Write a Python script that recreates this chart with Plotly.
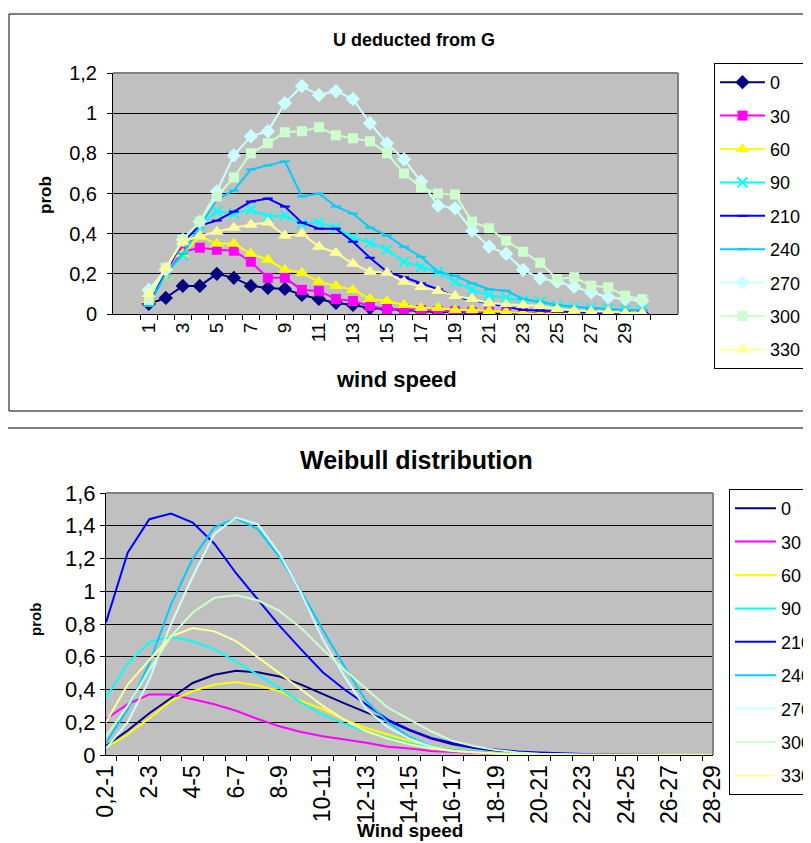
import plotly.graph_objects as go

# the page body has an 8px margin, so the figure is placed at (8, 8)
OFF = 8
W, H = 811 - OFF, 843 - OFF

# --- top chart: "U deducted from G" ---
speeds = [str(i) for i in range(1, 31)]
speed_labels = [s if i % 2 == 0 else "" for i, s in enumerate(speeds)]

u_0 = [0.05, 0.08, 0.14, 0.14, 0.20, 0.18, 0.14, 0.13, 0.125, 0.095, 0.075, 0.055, 0.045, 0.03, 0.025,
       0.02, 0.015, 0.01, 0.01, 0.005, 0.005, 0.005, 0, 0, 0, 0, 0, 0, 0, 0]
u_30 = [0.06, 0.2, 0.31, 0.33, 0.32, 0.315, 0.26, 0.18, 0.18, 0.12, 0.115, 0.075, 0.065, 0.04, 0.025,
        0.025, 0.02, 0.015, 0.015, 0.01, 0.01, 0.01, 0.005, 0.005, 0, 0, 0, 0, 0, 0]
u_60 = [0.07, 0.19, 0.3, 0.385, 0.35, 0.35, 0.3, 0.27, 0.22, 0.205, 0.16, 0.14, 0.12, 0.075, 0.065,
        0.045, 0.03, 0.03, 0.02, 0.02, 0.015, 0.01, 0.005, 0, 0, 0, 0, 0, 0, 0]
u_90 = [0.07, 0.2, 0.29, 0.44, 0.51, 0.5, 0.52, 0.485, 0.49, 0.45, 0.455, 0.43, 0.38, 0.355, 0.32,
        0.26, 0.235, 0.21, 0.16, 0.12, 0.095, 0.078, 0.07, 0.061, 0.04, 0.033, 0.03, 0.025, 0.02, 0.02]
u_210 = [0.06, 0.21, 0.36, 0.44, 0.465, 0.51, 0.56, 0.575, 0.535, 0.455, 0.425, 0.425, 0.36, 0.28, 0.21,
         0.183, 0.153, 0.123, 0.086, 0.07, 0.053, 0.036, 0.02, 0.017, 0.012, 0.01, 0.005, 0.005, 0.005, 0.005]
u_240 = [0.04, 0.2, 0.3, 0.435, 0.57, 0.615, 0.72, 0.74, 0.76, 0.585, 0.6, 0.535, 0.5, 0.43, 0.39,
         0.335, 0.285, 0.21, 0.19, 0.153, 0.123, 0.116, 0.075, 0.061, 0.045, 0.036, 0.03, 0.025, 0.02, 0.02]
u_270 = [0.12, 0.22, 0.37, 0.46, 0.61, 0.79, 0.885, 0.91, 1.05, 1.135, 1.09, 1.11, 1.07, 0.95, 0.85,
         0.77, 0.66, 0.54, 0.526, 0.415, 0.335, 0.30, 0.22, 0.178, 0.16, 0.136, 0.108, 0.083, 0.075, 0.065]
u_300 = [0.07, 0.23, 0.37, 0.46, 0.585, 0.68, 0.8, 0.85, 0.905, 0.91, 0.93, 0.89, 0.875, 0.86, 0.8,
         0.7, 0.63, 0.6, 0.595, 0.46, 0.427, 0.365, 0.31, 0.255, 0.174, 0.183, 0.141, 0.133, 0.091, 0.073]
u_330 = [0.1, 0.23, 0.36, 0.39, 0.41, 0.43, 0.445, 0.455, 0.39, 0.4, 0.335, 0.305, 0.25, 0.21, 0.205,
         0.16, 0.135, 0.115, 0.09, 0.075, 0.055, 0.048, 0.045, 0.04, 0.025, 0.017, 0.012, 0.012, 0.005, 0.005]

# --- bottom chart: "Weibull distribution" ---
bins = ["0,2-1"] + [f"{i}-{i + 1}" for i in range(1, 29)]
bin_labels = [b if i % 2 == 0 else "" for i, b in enumerate(bins)]

w_0 = [0.055, 0.15, 0.255, 0.35, 0.44, 0.49, 0.515, 0.505, 0.48, 0.43, 0.37, 0.315, 0.26, 0.21, 0.15,
       0.1, 0.065, 0.042, 0.026, 0.016, 0.01, 0.006, 0.004, 0.002, 0, 0, 0, 0, 0]
w_30 = [0.22, 0.31, 0.37, 0.37, 0.34, 0.31, 0.27, 0.22, 0.175, 0.14, 0.115, 0.095, 0.075, 0.05, 0.04,
        0.025, 0.018, 0.012, 0.007, 0.004, 0.002, 0.001, 0, 0, 0, 0, 0, 0, 0]
w_60 = [0.045, 0.125, 0.225, 0.33, 0.39, 0.43, 0.445, 0.425, 0.39, 0.33, 0.28, 0.215, 0.165, 0.125, 0.085,
        0.055, 0.035, 0.02, 0.012, 0.007, 0.004, 0.002, 0.001, 0, 0, 0, 0, 0, 0]
w_90 = [0.35, 0.56, 0.69, 0.72, 0.695, 0.645, 0.57, 0.49, 0.41, 0.32, 0.245, 0.19, 0.145, 0.105, 0.07,
        0.045, 0.03, 0.018, 0.01, 0.005, 0.003, 0.001, 0, 0, 0, 0, 0, 0, 0]
w_210 = [0.81, 1.235, 1.44, 1.475, 1.42, 1.29, 1.11, 0.95, 0.79, 0.645, 0.505, 0.40, 0.31, 0.216, 0.155,
         0.104, 0.073, 0.047, 0.033, 0.022, 0.016, 0.01, 0.006, 0.002, 0, 0, 0, 0, 0]
w_240 = [0.075, 0.28, 0.56, 0.92, 1.2, 1.39, 1.445, 1.38, 1.21, 1.0, 0.765, 0.54, 0.33, 0.2, 0.11,
         0.053, 0.03, 0.018, 0.01, 0.005, 0.002, 0.001, 0, 0, 0, 0, 0, 0, 0]
w_270 = [0.04, 0.2, 0.46, 0.8, 1.09, 1.35, 1.45, 1.41, 1.23, 0.99, 0.705, 0.48, 0.28, 0.17, 0.1,
         0.05, 0.026, 0.015, 0.008, 0.004, 0.002, 0.001, 0, 0, 0, 0, 0, 0, 0]
w_300 = [0.115, 0.3, 0.52, 0.725, 0.87, 0.96, 0.975, 0.945, 0.88, 0.775, 0.645, 0.52, 0.405, 0.29, 0.216,
         0.145, 0.085, 0.053, 0.03, 0.016, 0.008, 0.004, 0.002, 0.001, 0, 0, 0, 0, 0]
w_330 = [0.2, 0.43, 0.58, 0.725, 0.775, 0.755, 0.695, 0.6, 0.5, 0.4, 0.3, 0.215, 0.145, 0.1, 0.065,
         0.04, 0.025, 0.015, 0.008, 0.004, 0.002, 0.001, 0, 0, 0, 0, 0, 0, 0]

directions = ["0", "30", "60", "90", "210", "240", "270", "300", "330"]
colors = ["#000080", "#FF00FF", "#FFFF00", "#00FFFF", "#0000FF", "#00CCFF", "#CCFFFF", "#CCFFCC", "#FFFF99"]
symbols = ["diamond", "square", "triangle-up", "x-thin", "line-ew", "line-ew", "diamond", "square", "triangle-up"]
sizes = [11, 10, 12, 10, 7, 7, 11, 10, 12]

u_series = [u_0, u_30, u_60, u_90, u_210, u_240, u_270, u_300, u_330]
w_series = [w_0, w_30, w_60, w_90, w_210, w_240, w_270, w_300, w_330]

FONT = "Liberation Sans, Arial, sans-serif"


# screen pixel -> paper fraction
def px_x(x):
    return (x - OFF) / W


def px_y(y):
    return 1 - (y - OFF) / H


fig = go.Figure()

for name, vals, c, s, sz in zip(directions, u_series, colors, symbols, sizes):
    thin = s in ("x-thin", "line-ew")
    fig.add_trace(go.Scatter(
        x=speeds, y=vals, name=name, mode="lines+markers",
        line=dict(color=c, width=2),
        marker=dict(symbol=s, size=sz, color=c,
                    line=dict(color=c, width=2 if thin else 0)),
        xaxis="x", yaxis="y", legend="legend", legendgroup="u" + name,
    ))

for name, vals, c in zip(directions, w_series, colors):
    fig.add_trace(go.Scatter(
        x=bins, y=vals, name=name, mode="lines",
        line=dict(color=c, width=2),
        xaxis="x2", yaxis="y2", legend="legend2", legendgroup="w" + name,
    ))

axis_common = dict(showline=True, linecolor="black", linewidth=1,
                   ticks="outside", ticklen=5, tickcolor="black")

fig.update_layout(
    width=W, height=H,
    margin=dict(l=0, r=0, t=0, b=0, autoexpand=False),
    paper_bgcolor="white", plot_bgcolor="#C0C0C0",
    separators=",.",
    font=dict(family=FONT, color="black"),
    xaxis=dict(domain=[px_x(113), px_x(678)], anchor="y", type="category",
               tickmode="array", tickvals=speeds, ticktext=speed_labels,
               tickangle=-90, tickson="boundaries", showgrid=False,
               tickfont=dict(family=FONT, size=19, color="black"), **axis_common),
    yaxis=dict(domain=[px_y(314), px_y(73)], anchor="x", range=[0, 1.2],
               tickvals=[0, 0.2, 0.4, 0.6, 0.8, 1, 1.2], ticklabelstandoff=6,
               showgrid=True, gridcolor="black", gridwidth=1, zeroline=False,
               tickfont=dict(family=FONT, size=20, color="black"), **axis_common),
    xaxis2=dict(domain=[px_x(106), px_x(713)], anchor="y2", type="category",
                tickmode="array", tickvals=bins, ticktext=bin_labels,
                tickangle=-90, tickson="boundaries", showgrid=False,
                tickfont=dict(family=FONT, size=23, color="black"), **axis_common),
    yaxis2=dict(domain=[px_y(755), px_y(493)], anchor="x2", range=[0, 1.6],
                tickvals=[0, 0.2, 0.4, 0.6, 0.8, 1, 1.2, 1.4, 1.6],
                showgrid=True, gridcolor="black", gridwidth=1, zeroline=False,
                tickfont=dict(family=FONT, size=22, color="black"), **axis_common),
    legend=dict(x=px_x(714), y=px_y(63), xanchor="left", yanchor="top",
                bgcolor="white", bordercolor="black", borderwidth=1, itemwidth=45,
                tracegroupgap=7, font=dict(family=FONT, size=18)),
    legend2=dict(x=px_x(729), y=px_y(489), xanchor="left", yanchor="top",
                 bgcolor="white", bordercolor="black", borderwidth=1, itemwidth=41,
                 tracegroupgap=7, font=dict(family=FONT, size=18)),
    showlegend=True,
)

# chart frames and plot-area borders
fig.add_shape(type="rect", xref="paper", yref="paper",
              x0=px_x(9), x1=px_x(830), y0=px_y(411), y1=px_y(14),
              line=dict(color="black", width=1), layer="below")
fig.add_shape(type="rect", xref="paper", yref="paper",
              x0=px_x(4), x1=px_x(830), y0=px_y(870), y1=px_y(428),
              line=dict(color="black", width=1), layer="below")
for x0, x1, y0, y1 in [(113, 678, 314, 73), (106, 713, 755, 493)]:
    fig.add_shape(type="line", xref="paper", yref="paper",
                  x0=px_x(x0), x1=px_x(x1), y0=px_y(y1), y1=px_y(y1),
                  line=dict(color="#808080", width=2))
    fig.add_shape(type="line", xref="paper", yref="paper",
                  x0=px_x(x1), x1=px_x(x1), y0=px_y(y0), y1=px_y(y1),
                  line=dict(color="#808080", width=2))

labels = [
    ("<b>U deducted from G</b>", 414, 40, 18, 0),
    ("<b>prob</b>", 45, 195, 17, -90),
    ("<b>wind speed</b>", 396, 379, 22, 0),
    ("<b>Weibull distribution</b>", 416, 460, 25, 0),
    ("<b>prob</b>", 35, 620, 15, -90),
    ("<b>Wind speed</b>", 410, 830, 19, 0),
]
for text, x, y, size, angle in labels:
    fig.add_annotation(text=text, x=px_x(x), y=px_y(y), xref="paper", yref="paper",
                       xanchor="center", yanchor="middle", showarrow=False, textangle=angle,
                       font=dict(family=FONT, size=size, color="black"))

fig.write_html("out.html")
